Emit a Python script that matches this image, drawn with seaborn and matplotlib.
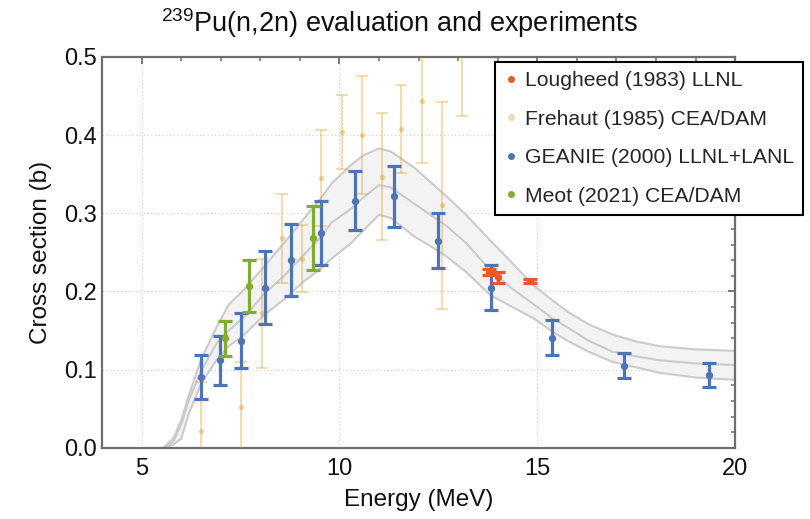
import numpy as np
import pandas as pd
import matplotlib
matplotlib.use("Agg")
import matplotlib.pyplot as plt
import seaborn as sns
from matplotlib.lines import Line2D
from matplotlib.ticker import MultipleLocator

# Evaluation band: upper / central / lower curves
band_energy = [5.55, 5.8, 6.0, 6.2, 6.5, 6.9, 7.2, 7.6, 8.1, 8.6, 9.1, 9.5, 9.8, 10.3, 10.6, 11.0,
               11.3, 11.9, 12.3, 12.7, 13.2, 13.8, 14.3, 14.9, 15.4, 15.8, 16.3, 16.9, 17.5, 18.1, 19.0, 20.0]
band_upper = [0.0, 0.012, 0.035, 0.068, 0.113, 0.155, 0.183, 0.203, 0.232, 0.262, 0.293, 0.317, 0.338, 0.362, 0.374, 0.383,
              0.379, 0.358, 0.340, 0.322, 0.298, 0.266, 0.240, 0.208, 0.188, 0.173, 0.158, 0.145, 0.136, 0.130, 0.126, 0.124]
band_central = [0.0, 0.008, 0.030, 0.062, 0.098, 0.134, 0.150, 0.168, 0.197, 0.220, 0.247, 0.268, 0.288, 0.306, 0.320, 0.336,
                0.333, 0.312, 0.298, 0.284, 0.262, 0.228, 0.206, 0.184, 0.165, 0.153, 0.137, 0.123, 0.117, 0.112, 0.108, 0.106]
band_lower = [0.0, 0.004, 0.012, 0.045, 0.082, 0.113, 0.130, 0.145, 0.170, 0.190, 0.213, 0.228, 0.242, 0.262, 0.278, 0.298,
              0.294, 0.270, 0.258, 0.245, 0.225, 0.196, 0.182, 0.166, 0.148, 0.136, 0.123, 0.110, 0.103, 0.096, 0.090, 0.087]

# Lougheed (1983) LLNL
lougheed_e = [13.79, 14.00, 14.82]
lougheed_xs = [0.225, 0.218, 0.2135]
lougheed_err = [0.004, 0.0075, 0.003]

# Frehaut (1985) CEA/DAM
frehaut_e = [6.49, 7.52, 8.03, 8.54, 9.05, 9.53, 10.06, 10.56, 11.07, 11.56, 12.08, 12.59, 13.09]
frehaut_xs = [0.022, 0.052, 0.172, 0.268, 0.242, 0.345, 0.404, 0.400, 0.347, 0.408, 0.444, 0.310, 0.505]
frehaut_err = [0.062, 0.058, 0.070, 0.057, 0.043, 0.061, 0.047, 0.075, 0.081, 0.056, 0.080, 0.132, 0.081]

# GEANIE (2000) LLNL+LANL
geanie_e = [6.49, 6.98, 7.51, 8.13, 8.78, 9.54, 10.39, 11.37, 12.50, 13.82, 15.37, 17.20, 19.35]
geanie_xs = [0.091, 0.112, 0.137, 0.205, 0.240, 0.275, 0.316, 0.322, 0.265, 0.205, 0.141, 0.105, 0.093]
geanie_err = [0.028, 0.031, 0.035, 0.047, 0.046, 0.041, 0.038, 0.039, 0.035, 0.029, 0.022, 0.016, 0.015]

# Meot (2021) CEA/DAM
meot_e = [7.11, 7.72, 9.34]
meot_xs = [0.140, 0.207, 0.268]
meot_err = [0.022, 0.033, 0.041]

RED = "#e9582c"
TAN = "#e19c24"
BLUE = "#4f74b3"
GREEN = "#82ad2c"
AXIS_GRAY = "#6e6e6e"

sns.set_theme(style="white")
plt.rcParams["font.family"] = ["Liberation Sans", "DejaVu Sans"]
plt.rcParams["mathtext.fontset"] = "custom"
plt.rcParams["mathtext.rm"] = "Liberation Sans"

fig = plt.figure(figsize=(8.1, 5.19), dpi=100)
ax = fig.add_axes([0.126, 0.137, 0.7815, 0.7534])

# evaluation band
ax.fill_between(band_energy, band_lower, band_upper, color="#f3f3f3", zorder=1, lw=0)
for curve in (band_upper, band_central, band_lower):
    sns.lineplot(x=band_energy, y=curve, ax=ax, color="#cbcbcb", lw=1.5, estimator=None, zorder=2)

# Frehaut (faded)
ax.errorbar(frehaut_e, frehaut_xs, yerr=frehaut_err, fmt="none", ecolor=TAN, alpha=0.42,
            elinewidth=1.2, capsize=4, capthick=1.2, zorder=3)
sns.scatterplot(x=frehaut_e, y=frehaut_xs, ax=ax, color=TAN, alpha=0.45, s=14, linewidth=0, zorder=3)

# GEANIE
ax.errorbar(geanie_e, geanie_xs, yerr=geanie_err, fmt="none", ecolor=BLUE,
            elinewidth=2.3, capsize=5, capthick=2.3, zorder=4)
sns.scatterplot(x=geanie_e, y=geanie_xs, ax=ax, color=BLUE, s=28, linewidth=0, zorder=4)

# Meot
ax.errorbar(meot_e, meot_xs, yerr=meot_err, fmt="none", ecolor=GREEN,
            elinewidth=2.3, capsize=5, capthick=2.3, zorder=5)
sns.scatterplot(x=meot_e, y=meot_xs, ax=ax, color=GREEN, s=28, linewidth=0, zorder=5)

# Lougheed
ax.errorbar(lougheed_e, lougheed_xs, yerr=lougheed_err, fmt="none", ecolor=RED,
            elinewidth=2.3, capsize=5, capthick=2.3, zorder=6)
sns.scatterplot(x=lougheed_e, y=lougheed_xs, ax=ax, color=RED, s=28, linewidth=0, zorder=6)

ax.set_xlim(4, 20)
ax.set_ylim(0, 0.5)
ax.xaxis.set_major_locator(MultipleLocator(5))
ax.xaxis.set_minor_locator(MultipleLocator(1))
ax.yaxis.set_major_locator(MultipleLocator(0.1))
ax.yaxis.set_minor_locator(MultipleLocator(0.02))
ax.yaxis.set_major_formatter(matplotlib.ticker.FormatStrFormatter("%.1f"))

ax.tick_params(which="both", direction="in", top=True, right=True, color=AXIS_GRAY,
               labelsize=17, labelcolor="#111111")
ax.tick_params(which="major", length=5, width=1.3)
ax.tick_params(which="minor", length=3, width=1.1)
ax.tick_params(axis="x", which="major", pad=7)
for side in ax.spines.values():
    side.set_color(AXIS_GRAY)
    side.set_linewidth(1.6)

ax.grid(True, which="major", linestyle=(0, (1, 2)), color="#d2d2d2", lw=0.9)
ax.set_axisbelow(True)

ax.set_xlabel("Energy (MeV)", fontsize=17.5, color="#111111", labelpad=7)
ax.set_ylabel("Cross section (b)", fontsize=17.5, color="#111111", labelpad=9)
fig.text(0.493, 0.955, r"$^{239}$Pu(n,2n) evaluation and experiments",
         ha="center", va="center", fontsize=19.5, color="#111111")

handles = [
    Line2D([], [], ls="none", marker="o", ms=4, color=RED, label="Lougheed (1983) LLNL"),
    Line2D([], [], ls="none", marker="o", ms=4, color="#f3d9b0", label="Frehaut (1985) CEA/DAM"),
    Line2D([], [], ls="none", marker="o", ms=4, color=BLUE, label="GEANIE (2000) LLNL+LANL"),
    Line2D([], [], ls="none", marker="o", ms=4, color=GREEN, label="Meot (2021) CEA/DAM"),
]
leg = ax.legend(handles=handles, loc="upper left", bbox_to_anchor=(0.621, 0.987), frameon=True,
                fancybox=False, edgecolor="black", framealpha=1, fontsize=15.2,
                handlelength=0.6, handletextpad=0.35, labelspacing=0.92, borderpad=0.45,
                borderaxespad=0)
leg.get_frame().set_linewidth(1.5)
leg.set_zorder(10)

fig.savefig("out.png", dpi=100)
